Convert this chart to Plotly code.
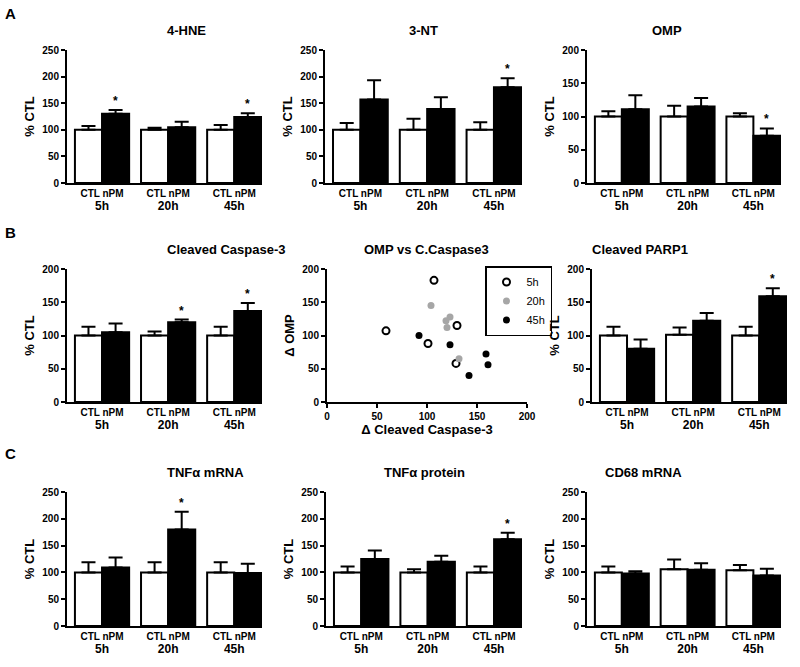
import plotly.graph_objects as go
from plotly.subplots import make_subplots

W, H = 800, 667
FONT = "Liberation Sans, Arial, sans-serif"

groups = ["5h", "20h", "45h"]

# --- row A ---
hne_ctl = [100, 100, 100]
hne_ctl_err = [7, 4, 9]
hne_npm = [130, 105, 124]
hne_npm_err = [7, 10, 7]
hne_sig = [True, False, True]

nt_ctl = [100, 100, 100]
nt_ctl_err = [13, 21, 14]
nt_npm = [157, 139, 180]
nt_npm_err = [36, 22, 17]
nt_sig = [False, False, True]

omp_ctl = [100, 100, 100]
omp_ctl_err = [8, 16, 5]
omp_npm = [111, 115, 71]
omp_npm_err = [21, 13, 11]
omp_sig = [False, False, True]

# --- row B ---
casp_ctl = [100, 100, 100]
casp_ctl_err = [13, 6, 13]
casp_npm = [105, 120, 137]
casp_npm_err = [13, 4, 12]
casp_sig = [False, True, True]

c5_x = [107, 59, 101, 130, 129]
c5_y = [183, 107, 88, 115, 58]
c20_x = [104, 123, 119, 120, 132]
c20_y = [145, 128, 122, 112, 65]
c45_x = [92, 123, 159, 161, 142]
c45_y = [100, 86, 72, 56, 40]

parp_ctl = [100, 101, 100]
parp_ctl_err = [13, 11, 13]
parp_npm = [80, 122, 159]
parp_npm_err = [14, 12, 12]
parp_sig = [False, False, True]

# --- row C ---
tnfm_ctl = [100, 100, 100]
tnfm_ctl_err = [19, 19, 19]
tnfm_npm = [109, 180, 99]
tnfm_npm_err = [19, 33, 17]
tnfm_sig = [False, True, False]

tnfp_ctl = [100, 100, 100]
tnfp_ctl_err = [11, 6, 11]
tnfp_npm = [125, 120, 162]
tnfp_npm_err = [16, 11, 12]
tnfp_sig = [False, False, True]

cd68_ctl = [100, 106, 104]
cd68_ctl_err = [11, 18, 10]
cd68_npm = [98, 105, 94]
cd68_npm_err = [4, 12, 13]
cd68_sig = [False, False, False]

bar_panels = {
    (1, 1): ("4-HNE", 250, hne_ctl, hne_ctl_err, hne_npm, hne_npm_err, hne_sig),
    (1, 2): ("3-NT", 250, nt_ctl, nt_ctl_err, nt_npm, nt_npm_err, nt_sig),
    (1, 3): ("OMP", 200, omp_ctl, omp_ctl_err, omp_npm, omp_npm_err, omp_sig),
    (2, 1): ("Cleaved Caspase-3", 200, casp_ctl, casp_ctl_err, casp_npm, casp_npm_err, casp_sig),
    (2, 3): ("Cleaved PARP1", 200, parp_ctl, parp_ctl_err, parp_npm, parp_npm_err, parp_sig),
    (3, 1): ("TNFα mRNA", 250, tnfm_ctl, tnfm_ctl_err, tnfm_npm, tnfm_npm_err, tnfm_sig),
    (3, 2): ("TNFα protein", 250, tnfp_ctl, tnfp_ctl_err, tnfp_npm, tnfp_npm_err, tnfp_sig),
    (3, 3): ("CD68 mRNA", 250, cd68_ctl, cd68_ctl_err, cd68_npm, cd68_npm_err, cd68_sig),
}

# panel frames in page pixels
x_px = {
    1: [(67, 262), (325, 522), (587, 781)],
    2: [(67, 262), (327, 527), (592, 787)],
    3: [(67, 262), (326, 522), (587, 781)],
}
y_px = {1: (50, 183), 2: (269, 402), 3: (492, 626)}
letters = {1: ("A", 13), 2: ("B", 232), 3: ("C", 453)}


def px_x(v):
    return v / W


def px_y(v):
    return 1 - v / H


BARGAP = 0.18
shift = (1 - BARGAP) / 4

fig = make_subplots(rows=3, cols=3)

axis_common = dict(
    showline=True, linecolor="black", linewidth=2, showgrid=False, zeroline=False,
    automargin=False,
    tickfont=dict(family=FONT, size=10, color="black", weight="bold"),
)

# two-line category labels: CTL / nPM over the time point
ticklabels = [f"CTL nPM<br><span style='font-size:12px'>{g}</span>" for g in groups]

for (r, c), (title, ymax, ctl, ctl_err, npm, npm_err, sig) in bar_panels.items():
    fig.add_trace(go.Bar(
        x=groups, y=ctl, marker=dict(color="white", line=dict(color="black", width=2)),
        error_y=dict(type="data", array=ctl_err, arrayminus=[0] * len(ctl), symmetric=False,
                     color="black", thickness=2, width=7),
        showlegend=False,
    ), row=r, col=c)
    fig.add_trace(go.Bar(
        x=groups, y=npm, marker=dict(color="black", line=dict(color="black", width=2)),
        error_y=dict(type="data", array=npm_err, arrayminus=[0] * len(npm), symmetric=False,
                     color="black", thickness=2, width=7),
        showlegend=False,
    ), row=r, col=c)
    fig.update_xaxes(axis_common, type="category", range=[-0.53, 2.42], ticks="",
                     tickvals=groups, ticktext=ticklabels, row=r, col=c)
    fig.update_yaxes(axis_common, range=[0, ymax], dtick=50, ticks="outside", ticklen=4,
                     tickwidth=2, tickcolor="black",
                     title=dict(text="% CTL", standoff=5,
                                font=dict(family=FONT, size=13, color="black", weight="bold")),
                     row=r, col=c)
    idx = (r - 1) * 3 + c
    xref = "x" if idx == 1 else f"x{idx}"
    yref = "y" if idx == 1 else f"y{idx}"
    for i, s in enumerate(sig):
        if s:
            fig.add_annotation(x=i + shift, y=npm[i] + npm_err[i], xref=xref, yref=yref,
                               text="*", showarrow=False, yanchor="bottom",
                               font=dict(family=FONT, size=12, color="black", weight="bold"))

# scatter panel
scatter_sets = [
    ("5h", c5_x, c5_y, dict(color="white", size=7, line=dict(color="black", width=2))),
    ("20h", c20_x, c20_y, dict(color="#a6a6a6", size=7, line=dict(color="#a6a6a6", width=0))),
    ("45h", c45_x, c45_y, dict(color="black", size=7, line=dict(color="black", width=0))),
]
for name, xs, ys, mk in scatter_sets:
    fig.add_trace(go.Scatter(x=xs, y=ys, mode="markers", name=name, marker=mk), row=2, col=2)

fig.update_xaxes(axis_common, range=[0, 200], dtick=50, ticks="outside", ticklen=4, tickwidth=2,
                 tickcolor="black",
                 title=dict(text="Δ Cleaved Caspase-3", standoff=4,
                            font=dict(family=FONT, size=13, color="black", weight="bold")),
                 row=2, col=2)
fig.update_yaxes(axis_common, range=[0, 200], dtick=50, ticks="outside", ticklen=4, tickwidth=2,
                 tickcolor="black",
                 title=dict(text="Δ OMP", standoff=5,
                            font=dict(family=FONT, size=13, color="black", weight="bold")),
                 row=2, col=2)

titles = {k: v[0] for k, v in bar_panels.items()}
titles[(2, 2)] = "OMP vs C.Caspase3"

for r in range(1, 4):
    top, bot = y_px[r]
    for c in range(1, 4):
        left, right = x_px[r][c - 1]
        fig.update_xaxes(domain=[px_x(left), px_x(right)], row=r, col=c)
        fig.update_yaxes(domain=[px_y(bot), px_y(top)], row=r, col=c)
        fig.add_annotation(x=px_x((left + right) / 2), y=px_y(top), xref="paper", yref="paper",
                           text=titles[(r, c)], showarrow=False, yanchor="bottom", yshift=10,
                           font=dict(family=FONT, size=13, color="black", weight="bold"))
    letter, ly = letters[r]
    fig.add_annotation(x=px_x(10), y=px_y(ly), xref="paper", yref="paper", text=letter,
                       showarrow=False, xanchor="center", yanchor="middle",
                       font=dict(family=FONT, size=15, color="black", weight="bold"))

fig.update_layout(
    width=W, height=H,
    margin=dict(l=0, r=0, t=0, b=0, autoexpand=False),
    paper_bgcolor="white", plot_bgcolor="white",
    barmode="group", bargap=BARGAP, bargroupgap=0,
    font=dict(family=FONT, color="black"),
    legend=dict(x=px_x(485), y=px_y(266), xanchor="left", yanchor="top",
                bordercolor="black", borderwidth=1.5, bgcolor="white",
                font=dict(family=FONT, size=11, color="black"),
                itemwidth=30, tracegroupgap=0),
)

# the page's default body margin would push the 800x667 figure out of the window
fig.write_html("out.html", config={"displayModeBar": False},
               post_script="document.body.style.margin = '0';")
